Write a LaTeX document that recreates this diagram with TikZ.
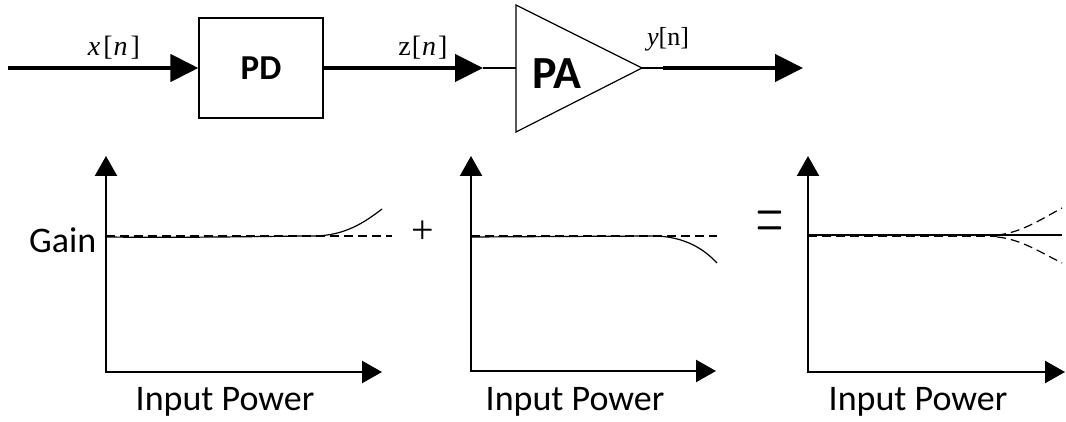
\documentclass[tikz,border=0pt]{standalone}
\usepackage{fontspec}
\setmainfont{Carlito}
\newfontfamily\serif{Liberation Serif}
\newfontfamily\lmr{Latin Modern Roman}
\usetikzlibrary{arrows.meta}
\begin{document}
\begin{tikzpicture}[x=1pt,y=-1pt,
  sig/.style={line width=4.5pt,-{Triangle[length=28pt,width=27pt]}},
  wire/.style={line width=1.2pt},
  axis/.style={line width=2.4pt,line join=miter,{Triangle[length=20pt,width=22pt]}-{Triangle[length=20pt,width=22pt]}},
  ref/.style={line width=1.2pt,dash pattern=on 9pt off 5pt},
  crv/.style={line width=1.2pt},
  lbl/.style={font=\fontsize{36}{40}\selectfont,anchor=base,inner sep=0pt},
  sigl/.style={font=\serif\fontsize{28}{30}\selectfont,anchor=base,inner sep=0pt},
  blk/.style={draw,line width=1.2pt,minimum width=124pt,minimum height=100pt,inner sep=0pt,font=\bfseries\fontsize{35}{38}\selectfont}
]
\useasboundingbox (0,0) rectangle (1066,422);

% ---- top chain ----
\coordinate (in) at (8,68);
\node[blk] (pd) at (261,68) {PD};
\coordinate (zt) at (483,68);
\coordinate (pain) at (516,68);
\coordinate (paout) at (642,68);
\coordinate (yo) at (663,68);
\coordinate (yt) at (803,68);
\draw[line width=1.2pt,line join=miter] (516,5) -- (paout) -- (516,132) -- cycle;
\node[font=\bfseries\fontsize{46}{48}\selectfont,anchor=base,inner sep=0pt] (pa) at (557,89) {PA};

\draw[sig] (in) -- (pd.west);
\draw[sig] (pd.east) -- (zt);
\draw[wire] (zt) -- (pain);
\draw[wire] (paout) -- (yo);
\draw[sig] (yo) -- (yt);

\node[sigl] (xl) at (114,56) {\itshape x\kern3pt\upshape[\kern1pt\itshape n\kern3pt\upshape]};
\node[sigl] (zl) at (423,56) {z\kern1pt[\kern1pt\itshape n\kern2pt\upshape]};
\node[sigl,font=\serif\fontsize{26}{28}\selectfont] (yl) at (668,46) {\itshape y\upshape[n]};

% ---- graph 1 ----
\draw[axis] (106,156) -- (106,372) -- (382,372);
\draw[crv] (106,237) .. controls (200,238) and (280,236) .. (313,236) .. controls (345,236) and (365,222) .. (382,209);
\draw[ref] (106,236) -- (392,236);
\node[lbl,anchor=base west] (gain) at (29,253) {Gain};
\node[lbl] (ip1) at (225,410) {Input Power};

% ---- plus ----
\node[font=\serif\fontsize{40}{42}\selectfont,inner sep=0pt] (plus) at (423,232) {+};

% ---- graph 2 ----
\draw[axis] (471,156) -- (471,371) -- (716,371);
\draw[crv] (471,237) -- (653,236) .. controls (685,236) and (705,250) .. (717,263);
\draw[ref] (471,236) -- (717,236);
\node[lbl] (ip2) at (575,410) {Input Power};

% ---- equals ----
\node[font=\lmr\fontsize{34}{36}\selectfont,inner sep=0pt] (eq) at (770,226.5) {\scalebox{1.1}[2.6]{=}};

% ---- graph 3 ----
\draw[axis] (808,156) -- (808,372) -- (1065,372);
\draw[crv] (808,235) -- (1062,235);
\draw[ref] (808,236) -- (997,236);
\draw[ref] (997,235) .. controls (1020,233) and (1040,220) .. (1062,208);
\draw[ref] (997,237) .. controls (1020,239) and (1040,252) .. (1062,263);
\node[lbl] (ip3) at (918,410) {Input Power};
\end{tikzpicture}
\end{document}
